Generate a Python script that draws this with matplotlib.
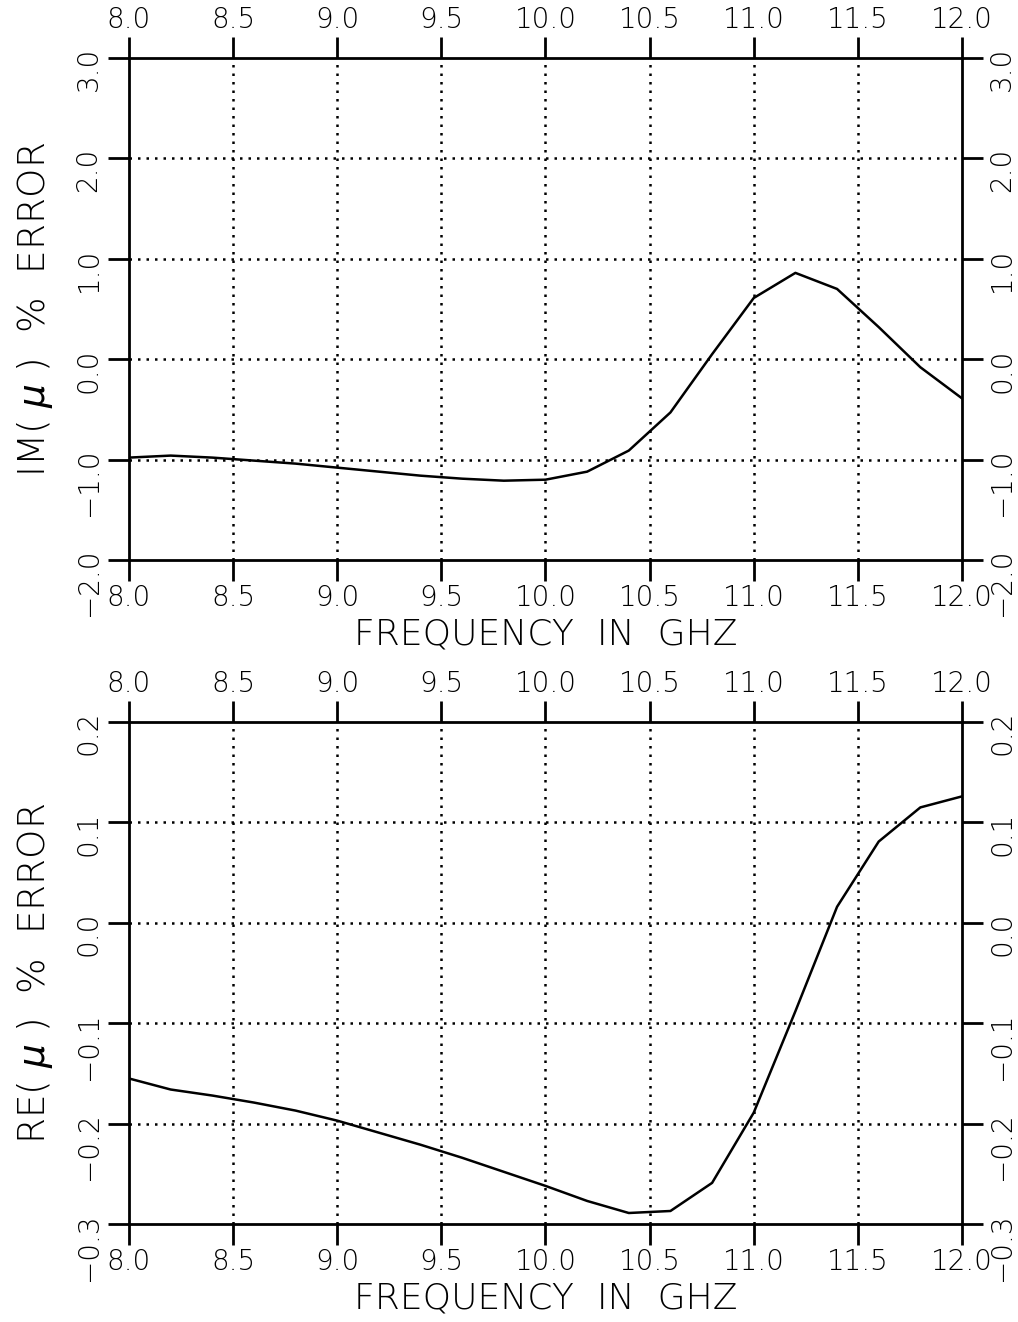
import matplotlib
matplotlib.use("Agg")
import matplotlib.pyplot as plt
from matplotlib.ticker import FuncFormatter, MultipleLocator

plt.rcParams['font.family'] = ['DejaVu Sans']
plt.rcParams['mathtext.fontset'] = 'dejavusans'

# frequency sweep, GHz
freq = [8.0, 8.2, 8.4, 8.6, 8.8, 9.0, 9.2, 9.4, 9.6, 9.8, 10.0,
        10.2, 10.4, 10.6, 10.8, 11.0, 11.2, 11.4, 11.6, 11.8, 12.0]

# percent error in the imaginary part of mu
im_err = [-0.98, -0.96, -0.98, -1.01, -1.04, -1.08, -1.12, -1.16, -1.19, -1.21, -1.20,
          -1.12, -0.91, -0.53, 0.05, 0.61, 0.86, 0.70, 0.32, -0.08, -0.39]

# percent error in the real part of mu
re_err = [-0.155, -0.166, -0.172, -0.179, -0.187, -0.197, -0.209, -0.221, -0.234, -0.248, -0.262,
          -0.277, -0.289, -0.287, -0.259, -0.189, -0.088, 0.016, 0.081, 0.115, 0.126]

x_ticks = [8.0, 8.5, 9.0, 9.5, 10.0, 10.5, 11.0, 11.5, 12.0]


def one_decimal(v, pos):
    s = '%.1f' % v
    if s == '-0.0':
        s = '0.0'
    return s.replace('-', '\u2212')


fig = plt.figure(figsize=(10.18, 13.22), dpi=100)
ax1 = fig.add_axes([0.1267, 0.5764, 0.8183, 0.3797])
ax2 = fig.add_axes([0.1267, 0.0741, 0.8183, 0.3797])


def style(ax, ylim, ystep, ylabel):
    ax.set_xlim(8.0, 12.0)
    ax.set_ylim(*ylim)
    ax.set_xticks(x_ticks)
    ax.yaxis.set_major_locator(MultipleLocator(ystep))
    ax.xaxis.set_major_formatter(FuncFormatter(one_decimal))
    ax.yaxis.set_major_formatter(FuncFormatter(one_decimal))
    for s in ax.spines.values():
        s.set_linewidth(2.0)
        s.set_zorder(4)
    ax.tick_params(axis='both', direction='out', length=15, width=2.0,
                   top=True, right=True, labeltop=True, labelright=True,
                   labelsize=20)
    ax.tick_params(axis='x', pad=2)
    ax.tick_params(axis='y', labelrotation=90, pad=4)
    for lab in ax.get_xticklabels() + ax.get_yticklabels():
        lab.set_fontweight('light')
    # dotted grid only inside the frame
    for xv in x_ticks[1:-1]:
        ax.axvline(xv, color='black', linestyle=(0, (1, 2.4)), linewidth=1.8, zorder=1)
    yv = ylim[0] + ystep
    while yv < ylim[1] - ystep / 2:
        ax.axhline(yv, color='black', linestyle=(0, (1, 2.4)), linewidth=1.8, zorder=1)
        yv += ystep
    ax.set_xlabel('FREQUENCY  IN  GHZ', fontsize=26, labelpad=4, fontweight='light')
    ax.set_ylabel(ylabel, fontsize=27, labelpad=14, fontweight='light')


ax1.plot(freq, im_err, color='black', linewidth=1.8, zorder=3)
style(ax1, (-2.0, 3.0), 1.0, r'IM( $\mu$ )  %  ERROR')

ax2.plot(freq, re_err, color='black', linewidth=1.8, zorder=3)
style(ax2, (-0.3, 0.2), 0.1, r'RE( $\mu$ )  %  ERROR')

fig.savefig('out.png', dpi=100)
